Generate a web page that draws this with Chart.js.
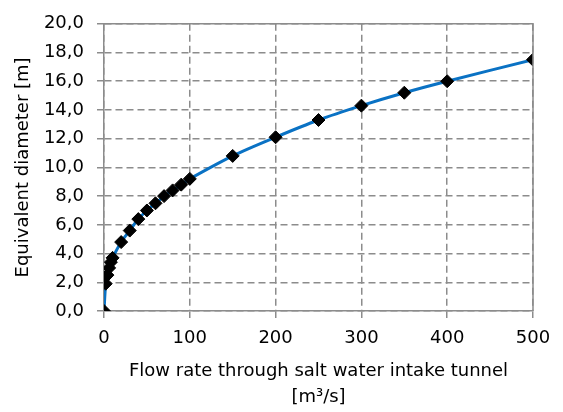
<!DOCTYPE html>
<html>
<head>
<meta charset="utf-8">
<script src="https://cdn.jsdelivr.net/npm/chart.js@4/dist/chart.umd.min.js"></script>
<style>
  html, body { margin: 0; padding: 0; background: #ffffff; }
  #wrap { width: 563px; height: 412px; position: relative; }
</style>
</head>
<body>
<div id="wrap"><canvas id="c" width="563" height="412"></canvas></div>
<script>
// Flow rate through the intake tunnel [m3/s] and the matching equivalent diameter [m]
const flowRates = [0, 2, 4, 6, 8, 10, 20, 30, 40, 50, 60, 70, 80, 90, 100, 150, 200, 250, 300, 350, 400, 500];
const diameters = [0.0, 1.9, 2.5, 3.0, 3.4, 3.7, 4.8, 5.6, 6.4, 7.0, 7.5, 8.0, 8.4, 8.8, 9.2, 10.8, 12.1, 13.3, 14.3, 15.2, 16.0, 17.5];

const xTickValues = [0, 100, 200, 300, 400, 500];
const yTickValues = [0, 2, 4, 6, 8, 10, 12, 14, 16, 18, 20];

const xTitle = ['Flow rate through salt water intake tunnel', '[m\u00B3/s]'];
const yTitle = 'Equivalent diameter [m]';

const FONT = 'Tahoma, "DejaVu Sans", sans-serif';
const GRID = '#8c8c8c';

// solid frame around the plotting area
const frame = {
  id: 'frame',
  afterDraw(chart) {
    const a = chart.chartArea, ctx = chart.ctx;
    ctx.save();
    ctx.strokeStyle = GRID;
    ctx.lineWidth = 1.5;
    ctx.setLineDash([]);
    ctx.beginPath();
    ctx.moveTo(a.left, a.top);
    ctx.lineTo(a.right, a.top);
    ctx.lineTo(a.right, a.bottom);
    ctx.stroke();
    ctx.restore();
  }
};

new Chart(document.getElementById('c'), {
  type: 'scatter',
  data: {
    datasets: [{
      data: flowRates.map((x, i) => ({ x, y: diameters[i] })),
      showLine: true,
      borderColor: '#0a72c4',
      borderWidth: 3,
      tension: 0.3,
      pointStyle: 'rectRot',
      pointRadius: 6.5,
      pointHoverRadius: 6.5,
      pointBackgroundColor: '#000000',
      pointBorderColor: '#000000',
      pointBorderWidth: 1
    }]
  },
  options: {
    responsive: false,
    animation: false,
    layout: { padding: { top: 21, right: 30, left: 13, bottom: 2 } },
    plugins: {
      legend: { display: false },
      tooltip: { enabled: false }
    },
    scales: {
      x: {
        type: 'linear',
        min: 0, max: 500,
        afterBuildTicks: s => { s.ticks = xTickValues.map(v => ({ value: v })); },
        ticks: {
          color: '#000', font: { family: FONT, size: 18 }, padding: 10,
          maxRotation: 0,
          callback: v => String(v)
        },
        grid: {
          color: GRID, lineWidth: 1.5,
          tickLength: 7, tickBorderDash: [], drawTicks: true
        },
        border: { display: true, color: GRID, width: 1.5, dash: [7, 4] },
        title: {
          display: true, text: xTitle, color: '#000',
          font: { family: FONT, size: 18, lineHeight: 1.45 }, padding: { top: 2, bottom: 0 }
        },
        afterFit: s => { s.height = 412 - 311 - 2; }
      },
      y: {
        type: 'linear',
        min: 0, max: 20,
        afterBuildTicks: s => { s.ticks = yTickValues.map(v => ({ value: v })); },
        ticks: {
          color: '#000', font: { family: FONT, size: 18 }, padding: 13,
          callback: v => v.toFixed(1).replace('.', ',')
        },
        grid: {
          color: GRID, lineWidth: 1.5,
          tickLength: 7, tickBorderDash: []
        },
        border: { display: true, color: GRID, width: 1.5, dash: [7, 4] },
        title: {
          display: true, text: yTitle, color: '#000',
          font: { family: FONT, size: 18 }, padding: { top: 0, bottom: 4 }
        },
        afterFit: s => { s.width = 104 - 13; }
      }
    }
  },
  plugins: [frame]
});
</script>
</body>
</html>
